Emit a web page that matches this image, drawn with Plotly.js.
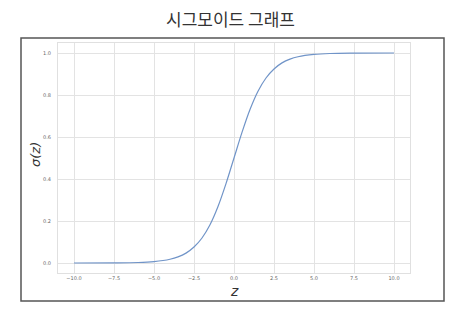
<!DOCTYPE html>
<html>
<head>
<meta charset="utf-8">
<script src="https://cdn.plot.ly/plotly-3.0.1.min.js"></script>
<style>
html,body{margin:0;padding:0;background:#fff;}
#chart{width:461px;height:324px;}
</style>
</head>
<body>
<div id="chart"></div>
<script>
// values
const zValues = [-10, -7.5, -6, -5, -4, -3.5, -3, -2.5, -2, -1.5, -1, -0.5, 0, 0.5, 1, 1.5, 2, 2.5, 3, 3.5, 4, 5, 6, 7.5, 10];
const sigmaValues = [0.00005, 0.0006, 0.0025, 0.007, 0.018, 0.029, 0.047, 0.076, 0.119, 0.182, 0.269, 0.378, 0.50, 0.622, 0.731, 0.818, 0.881, 0.924, 0.953, 0.971, 0.982, 0.993, 0.9975, 0.9994, 0.99995];
const xTickVals = [-10, -7.5, -5, -2.5, 0, 2.5, 5, 7.5, 10];
const xTickText = ['\u221210.0', '\u22127.5', '\u22125.0', '\u22122.5', '0.0', '2.5', '5.0', '7.5', '10.0'];
const yTickVals = [0, 0.2, 0.4, 0.6, 0.8, 1.0];
const yTickText = ['0.0', '0.2', '0.4', '0.6', '0.8', '1.0'];
const xLabel = 'z';
const yLabel = 'σ(z)';

const trace = {
  x: zValues, y: sigmaValues, type: 'scatter', mode: 'lines',
  line: {color: '#7094c8', width: 1.2, shape: 'spline', smoothing: 1},
  hoverinfo: 'skip'
};

const tickFont = {family: 'DejaVu Sans, sans-serif', size: 5, color: '#666'};
const labelFont = {family: 'DejaVu Sans, sans-serif', color: '#333', style: 'italic'};
const layout = {
  width: 461, height: 324,
  margin: {l: 58, r: 51, t: 43, b: 51},
  paper_bgcolor: '#fff', plot_bgcolor: '#fff',
  showlegend: false,
  title: {
    text: '시그모이드 그래프',
    font: {family: 'Noto Sans CJK KR, sans-serif', size: 17, color: '#333'},
    x: 0.5, xanchor: 'center', xref: 'container',
    y: 1 - 20/324, yanchor: 'middle', yref: 'container'
  },
  xaxis: {
    range: [-11, 11], tickvals: xTickVals, ticktext: xTickText,
    tickfont: tickFont, ticks: '', ticklen: 0,
    showgrid: true, gridcolor: '#e3e3e3', gridwidth: 1, zeroline: false,
    showline: true, linecolor: '#e0e0e0', linewidth: 1, mirror: true,
    automargin: false
  },
  yaxis: {
    range: [-0.0476, 1.0476], tickvals: yTickVals, ticktext: yTickText,
    tickfont: tickFont, ticks: 'outside', ticklen: 5, tickcolor: 'rgba(0,0,0,0)',
    showgrid: true, gridcolor: '#e3e3e3', gridwidth: 1, zeroline: false,
    showline: true, linecolor: '#e0e0e0', linewidth: 1, mirror: true,
    automargin: false
  },
  annotations: [
    {text: xLabel, xref: 'paper', yref: 'paper', x: (234 - 58) / 352, y: (273 - 290.5) / 230,
     xanchor: 'center', yanchor: 'middle', borderpad: 0, showarrow: false, font: Object.assign({size: 14}, labelFont)},
    {text: yLabel, xref: 'paper', yref: 'paper', x: (35 - 58) / 352, y: (273 - 155) / 230,
     xanchor: 'center', yanchor: 'middle', textangle: -90, showarrow: false, font: Object.assign({size: 13}, labelFont)}
  ],
  shapes: [{
    type: 'rect', xref: 'paper', yref: 'paper', layer: 'above',
    x0: (21 - 58) / 352, x1: (444 - 58) / 352,
    y0: (273 - 301) / 230, y1: (273 - 38) / 230,
    line: {color: '#555', width: 1.5}, fillcolor: 'rgba(0,0,0,0)'
  }]
};

Plotly.newPlot('chart', [trace], layout, {displayModeBar: false, staticPlot: true});
</script>
</body>
</html>
